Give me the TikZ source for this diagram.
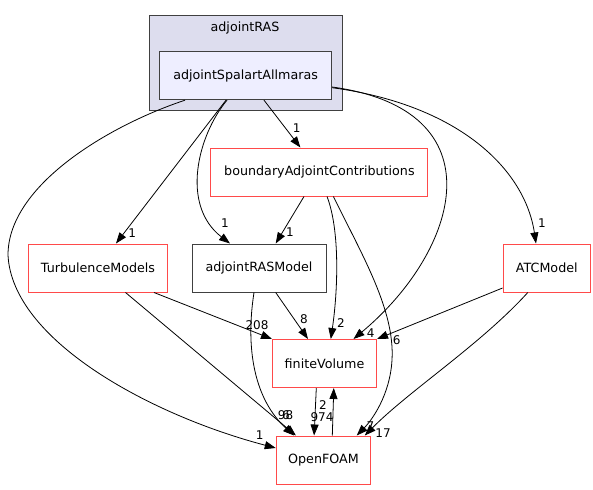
\documentclass[tikz,border=0pt]{standalone}
\usepackage{fontspec}
\setmainfont{DejaVu Sans}
\usetikzlibrary{arrows.meta}
\definecolor{boxred}{HTML}{FF4A4A}
\definecolor{boxgray}{HTML}{404040}
\definecolor{clusterfill}{HTML}{DDDDEE}
\definecolor{nodefill}{HTML}{EEEEFF}
\tikzset{
  dirbox/.style={draw=boxred, line width=1pt, fill=white, inner sep=0pt, minimum height=48pt, font=\fontsize{12.7}{15}\selectfont},
  graybox/.style={dirbox, draw=boxgray},
  dep/.style={draw=black, line width=0.8pt, -{Triangle[length=11pt,width=8pt]}},
  lbl/.style={font=\fontsize{12}{14}\selectfont, inner sep=0pt}
}
\begin{document}
\begin{tikzpicture}[x=1pt,y=-1pt]
\useasboundingbox (0,0) rectangle (593,489);
% cluster
\node[draw=boxgray, line width=1pt, fill=clusterfill, minimum width=193pt, minimum height=94.6pt, inner sep=0pt] (cl) at (245.8,63) {};
\node[lbl, font=\fontsize{12.7}{15}\selectfont] (cllabel) at (245,27.7) {adjointRAS};
% nodes
\node[graybox, fill=nodefill, minimum width=172pt] (aSA) at (245.6,75.7) {adjointSpalartAllmaras};
\node[dirbox, minimum width=217pt] (bAC) at (319.4,172) {boundaryAdjointContributions};
\node[dirbox, minimum width=139pt] (TM) at (98,268) {TurbulenceModels};
\node[graybox, minimum width=134pt] (aRM) at (259,268) {adjointRASModel};
\node[dirbox, minimum width=87.5pt] (ATC) at (546.8,268) {ATCModel};
\node[dirbox, minimum width=104pt] (fV) at (324.5,363.5) {finiteVolume};
\node[dirbox, minimum width=94.5pt] (OF) at (323.5,460) {OpenFOAM};
% edges from adjointSpalartAllmaras
\draw[dep] ([xshift=18.4pt]aSA.south) -- ([xshift=-19pt]bAC.north);
\draw[dep] ([xshift=-19.6pt]aSA.south) -- ([xshift=18pt]TM.north);
\draw[dep] ([xshift=-18.6pt]aSA.south) .. controls (198,135) and (180,205) .. ([xshift=-29pt]aRM.north);
\draw[dep] ([xshift=-60.6pt]aSA.south) .. controls (110,125) and (8,185) .. (8,255) .. controls (12,340) and (150,415) .. ([yshift=12pt]OF.west);
\draw[dep] ([yshift=-11.3pt]aSA.east) .. controls (500,110) and (460,250) .. ([xshift=29pt]fV.north);
\draw[dep] ([yshift=-12pt]aSA.east) .. controls (460,105) and (525,170) .. ([xshift=-10.8pt]ATC.north);
% edges from boundaryAdjointContributions
\draw[dep] ([xshift=-15.4pt]bAC.south) -- ([xshift=16.7pt]aRM.north);
\draw[dep] ([xshift=7.6pt]bAC.south) .. controls (340,230) and (338,290) .. ([xshift=6.3pt]fV.north);
\draw[dep] ([xshift=14pt]bAC.south) .. controls (362,255) and (395,310) .. (392,360) .. controls (390,395) and (372,420) .. ([xshift=33.2pt]OF.north);
% edges from TurbulenceModels
\draw[dep] ([xshift=56pt]TM.south) -- (fV.north west);
\draw[dep] ([xshift=27.5pt]TM.south) -- ([xshift=-27.6pt]OF.north);
% edges from adjointRASModel
\draw[dep] ([xshift=16.7pt]aRM.south) -- ([xshift=-16.5pt]fV.north);
\draw[dep] ([xshift=-5pt]aRM.south) .. controls (245,350) and (255,400) .. ([xshift=-29.5pt]OF.north);
% finiteVolume <-> OpenFOAM
\draw[dep] ([xshift=-8.2pt]fV.south) -- ([xshift=-9.4pt]OF.north);
\draw[dep] ([xshift=8.8pt]OF.north) -- ([xshift=9.3pt]fV.south);
% edges from ATCModel
\draw[dep] ([yshift=-20pt]ATC.west) -- (fV.north east);
\draw[dep] ([xshift=-19pt]ATC.south) .. controls (480,345) and (410,390) .. ([xshift=-6.5pt]OF.north east);
% labels
\node[lbl] (l1) at (296.6,127.7) {1};
\node[lbl] (l2) at (132.3,233) {1};
\node[lbl] (l3) at (225,223) {1};
\node[lbl] (l4) at (542,223) {1};
\node[lbl] (l5) at (290,232) {1};
\node[lbl] (l6) at (259.7,435) {1};
\node[lbl] (l7) at (257,325) {208};
\node[lbl] (l8) at (304,319) {8};
\node[lbl] (l9) at (341,323) {2};
\node[lbl] (l10) at (370.7,333) {4};
\node[lbl] (l11) at (396.6,340) {6};
\node[lbl] (l12) at (370.5,426) {7};
\node[lbl] (l13) at (383,433) {17};
\node[lbl] (l14) at (322,417) {974};
\node[lbl] (l15) at (323,405) {2};
\node[lbl] (l16) at (285.5,415) {98};
\node[lbl] (l17) at (286,415) {6};
\end{tikzpicture}
\end{document}
